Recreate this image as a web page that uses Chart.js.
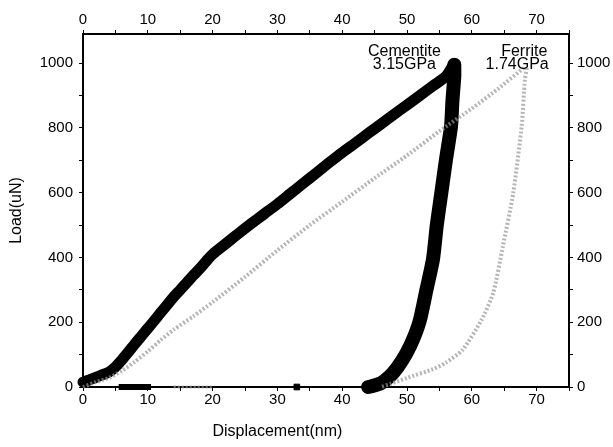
<!DOCTYPE html>
<html>
<head>
<meta charset="utf-8">
<script src="https://cdn.jsdelivr.net/npm/chart.js@4.4.0/dist/chart.umd.min.js"></script>
<style>
  html, body { margin: 0; padding: 0; background: #fff; }
</style>
</head>
<body>
<canvas id="chart" width="613" height="447"></canvas>
<script>
// cementite, loading + unloading (black)
const cemLoadX = [0, 1, 2, 3, 4, 5, 6, 7, 8, 9, 10, 11, 12, 13, 14, 15, 16, 17, 18, 19, 20, 22, 24, 26, 28, 30, 32, 34, 36, 38, 40, 42, 44, 46, 48, 50, 52, 54, 56, 57];
const cemLoadY = [15, 22, 30, 38, 46, 62, 84, 108, 133, 157, 181, 205, 230, 254, 278, 300, 322, 344, 365, 388, 410, 442, 474, 505, 535, 565, 597, 629, 661, 693, 724, 753, 783, 812, 842, 871, 900, 930, 959, 990];
const cemUnloadX = [57.3, 57.3, 57, 56.8, 56, 55.3, 54.6, 54, 53, 52, 51, 49.9, 48.5, 47.3, 46, 44.5, 44];
const cemUnloadY = [995, 960, 880, 806, 700, 600, 500, 393, 300, 207, 150, 104, 60, 32, 12, 2, 0];

// ferrite, loading + unloading (grey)
const ferLoadX = [0, 2, 4, 6, 8, 10, 12, 14, 17, 20, 25, 30, 35, 40, 45, 50, 55, 60, 64, 68];
const ferLoadY = [0, 15, 28, 50, 78, 110, 145, 177, 218, 262, 340, 422, 500, 572, 645, 715, 790, 860, 920, 985];
const ferUnloadX = [68.5, 68.2, 67.7, 66.4, 64.8, 63.3, 61.5, 58.6, 56, 54, 50, 47.5, 46];
const ferUnloadY = [985, 950, 806, 600, 434, 290, 207, 115, 75, 55, 28, 10, 0];

// approach segment lying on zero load
const baseX = [0, 13, null, 20.5, 43.5];
const baseY = [0, 0, null, 0, 0];
const baseThickX = [5.5, 10.5];
const baseThickY = [0, 0];
const baseGreyX = [14, 20];
const baseGreyY = [0, 0];
const baseMarkX = [33];
const baseMarkY = [0];

// tick values (labels only on every second one)
const xTickVals = [0, 5, 10, 15, 20, 25, 30, 35, 40, 45, 50, 55, 60, 65, 70, 75];
const yTickVals = [0, 100, 200, 300, 400, 500, 600, 700, 800, 900, 1000];

// annotations
const noteText = ['Cementite', '3.15GPa', 'Ferrite', '1.74GPa'];
const noteX = [49.6, 49.6, 68.1, 67];
const noteY = [1036, 996, 1036, 996];

const xTitle = 'Displacement(nm)';
const xTitleAt = 30;
const yTitle = 'Load(uN)';

function pts(xs, ys) {
  return xs.map((x, i) => ({ x: x, y: ys[i] }));
}

Chart.defaults.font.family = "'Liberation Sans', Arial, sans-serif";
Chart.defaults.color = '#000';

const notesPlugin = {
  id: 'notes',
  afterDraw(chart) {
    const ctx = chart.ctx;
    const xs = chart.scales.x, ys = chart.scales.y;
    ctx.save();
    ctx.fillStyle = '#000';
    ctx.textAlign = 'center';
    ctx.textBaseline = 'middle';
    ctx.font = "16px 'Liberation Sans', Arial, sans-serif";
    noteText.forEach((t, i) => {
      ctx.fillText(t, xs.getPixelForValue(noteX[i]), ys.getPixelForValue(noteY[i]));
    });
    ctx.fillText(xTitle, xs.getPixelForValue(xTitleAt), chart.chartArea.bottom + 45);
    ctx.restore();
  }
};

function xAxis(pos, size, pad) {
  return {
    type: 'linear', position: pos, min: 0, max: 75,
    afterFit: s => { s.height = size; },
    afterBuildTicks: s => { s.ticks = xTickVals.map(v => ({ value: v })); },
    ticks: {
      autoSkip: false, maxRotation: 0, padding: pad,
      font: { size: 15 },
      callback: v => (v % 10 === 0 ? v : '')
    },
    grid: { drawOnChartArea: false, tickLength: 4, color: '#000' },
    border: { color: '#000', width: 2 }
  };
}

function yAxis(pos, size, pad, title) {
  return {
    type: 'linear', position: pos, min: 0, max: 1090,
    afterFit: s => { s.width = size; },
    afterBuildTicks: s => { s.ticks = yTickVals.map(v => ({ value: v })); },
    ticks: {
      autoSkip: false, padding: pad,
      font: { size: 15 },
      callback: v => (v % 200 === 0 ? v : '')
    },
    title: title ? { display: true, text: title, font: { size: 16 }, padding: { top: 7, bottom: 0 } } : { display: false },
    grid: { drawOnChartArea: false, tickLength: 4, color: '#000' },
    border: { color: '#000', width: 2 }
  };
}

const greyLine = 'rgba(150,150,150,0.7)';

new Chart(document.getElementById('chart'), {
  type: 'scatter',
  data: {
    datasets: [
      {
        data: pts(ferLoadX, ferLoadY), showLine: true, order: 0, tension: 0.2,
        borderColor: greyLine, borderWidth: 4, borderDash: [2, 2],
        pointRadius: 0, clip: false
      },
      {
        data: pts(ferUnloadX, ferUnloadY), showLine: true, order: 0, tension: 0.2,
        borderColor: greyLine, borderWidth: 4, borderDash: [2, 2],
        pointRadius: 0, clip: false
      },
      {
        data: pts(cemLoadX, cemLoadY), showLine: true, order: 1, tension: 0.3,
        borderColor: '#000', borderWidth: 11, borderJoinStyle: 'round', borderCapStyle: 'round',
        pointRadius: 0, clip: false
      },
      {
        data: pts(cemUnloadX, cemUnloadY), showLine: true, order: 1, tension: 0.2,
        borderColor: '#000', borderWidth: 14, borderJoinStyle: 'round', borderCapStyle: 'round',
        pointRadius: 0, clip: false
      },
      {
        data: pts(baseX, baseY), showLine: true, spanGaps: false, order: 2,
        borderColor: '#000', borderWidth: 1.5, pointRadius: 0, clip: false
      },
      {
        data: pts(baseThickX, baseThickY), showLine: true, order: 2,
        borderColor: '#000', borderWidth: 6, pointRadius: 0, clip: false
      },
      {
        data: pts(baseGreyX, baseGreyY), showLine: true, order: 2,
        borderColor: greyLine, borderWidth: 3, borderDash: [2, 2], pointRadius: 0, clip: false
      },
      {
        data: pts(baseMarkX, baseMarkY), order: 2,
        pointStyle: 'rect', pointRadius: 4, backgroundColor: '#000', borderColor: '#000', clip: false
      }
    ]
  },
  plugins: [notesPlugin],
  options: {
    responsive: false,
    animation: false,
    layout: { padding: 0 },
    plugins: { legend: { display: false }, tooltip: { enabled: false } },
    scales: {
      x: xAxis('bottom', 60, 0),
      x2: xAxis('top', 34, 1),
      y: yAxis('left', 83, 6, yTitle),
      y2: yAxis('right', 44, 4, null)
    }
  }
});
</script>
</body>
</html>
